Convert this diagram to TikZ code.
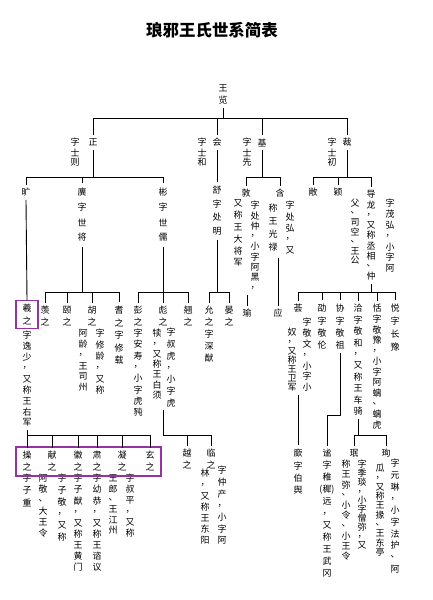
\documentclass[tikz,border=0pt]{standalone}
\usepackage{fontspec}
\setmainfont{Noto Sans CJK SC}
\usetikzlibrary{fit}
\definecolor{boxpurple}{RGB}{150,50,165}
\makeatletter
\newcommand\Vstack[2]{\vbox{\offinterlineskip\@tfor\vchr:=#2\do{\vbox to #1bp{\vss\hbox to 10bp{\hss\vchr\hss}\vss}}}}
\makeatother
\tikzset{
  colsty/.style={anchor=north, inner sep=1.5bp, font=\fontsize{9}{9}\selectfont},
  namebox/.style={draw=boxpurple, line width=1.4bp},
}
% [opts]{name}{x,y of first char centre}{spacing}{text}
\newcommand\C[5][]{\node[colsty, yshift={(#4/2+1.5)*1pt}, #1] (#2) at (#3) {\Vstack{#4}{#5}};}
\begin{document}
\begin{tikzpicture}[x=1bp, y=-1bp, line width=0.9bp]
\fill[white] (0,0) rectangle (432,600);
\useasboundingbox (0,0) rectangle (432,600);
\node (title) at (212,30) {\fontsize{16.5}{17}\selectfont\bfseries 琅邪王氏世系简表};

% level 0 / 1
\C{wl}{223,88}{12}{王览}
\C{zheng}{93,142}{11}{正}
\C{hui}{217,142}{11}{会}
\C{ji}{262,142}{11}{基}
\C{cai}{347,142}{11}{裁}
\C{lzheng}{75,142}{10}{字士则}
\C{lhui}{202,142}{10}{字士和}
\C{lji}{247,142}{10}{字士先}
\C{lcai}{332,142}{10}{字士初}

% level 2
\C{kuang}{26,192}{11}{旷}
\C{yi}{82,192}{15}{廙字世将}
\C{bin}{163,192}{15}{彬字世儒}
\C{shu}{217,190}{13.5}{舒字处明}
\C{dun}{246,193}{11}{敦}
\C{han}{280,193}{11}{含}
\C{dunR}{255,205}{10.25}{字处仲，小字阿黑，}
\C{dunL}{238,203}{11.8}{又称王大将军}
\C{hanR}{290,205}{11.25}{字处弘，又}
\C{hanL}{273,208}{13}{称王光禄}
\C{chang}{313,192}{11}{敞}
\C{yingA}{338,192}{11}{颖}
\C{dao}{371,194}{10.25}{导龙，又称丞相、仲}
\C{daoR}{390,203}{10.8}{字茂弘，小字阿}
\C{daoL}{355,203}{9.5}{父、司空、王公}

% level 3
\C[namebox, inner xsep=6bp, inner ysep=1bp]{xizhi}{27,308}{13}{羲之}
\C{xiD}{27,335}{10.9}{字逸少，又称王右军}
\C{xian}{45,310}{12}{羡之}
\C{yizhi}{67,310}{12}{颐之}
\C{hu}{92,310}{12}{胡之}
\C{huR}{100,333}{11.4}{字修龄，又称}
\C{huL}{83,333}{10.8}{阿龄，王司州}
\C{qi}{119,310}{12.5}{耆之字修载}
\C{peng}{138,310}{11.3}{彭之字安寿，小字虎豘}
\C{biao}{163,310}{12}{彪之}
\C{biaoR}{171,332}{11.7}{字叔虎，小字虎}
\C{biaoL}{157,333}{10.3}{犊，又称王白须}
\C{qiao}{188,310}{12}{翘之}
\C{yun}{209,310}{12}{允之字深猷}
\C{yan}{229,310}{12}{晏之}
\C{yu}{247,313}{11}{瑜}
\C{ying}{278,313}{11}{应}
\C{huiB}{298,308}{11}{荟}
\C{huiBR}{307,322}{10.8}{字敬文，小字小}
\C{huiBL}{292,332}{9.2}{奴，又称王卫军}
\C{shao}{322,308}{12.3}{劭字敬伦}
\C{xie}{340,308}{12.3}{协字敬祖}
\C{qia}{358,308}{11.4}{洽字敬和，又称王车骑}
\C{tian}{377,308}{10.6}{恬字敬豫，小字阿螭、螭虎}
\C{yue}{395,308}{13}{悦字长豫}

% level 4
\C{cao}{27,455}{12}{操之}
\C{xianB}{52,455}{12}{献之}
\C{huiC}{78,455}{12}{徽之}
\C{su}{97,455}{12}{肃之}
\C{ning}{122,455}{12}{凝之}
\C{xuan}{150,455}{12}{玄之}
\C{caoD}{27,478}{12}{字子重}
\C{xianR}{62,478}{11.8}{字子敬，又称}
\C{xianL}{43,478}{11}{阿敬、大王令}
\C{huiD}{78,478}{11.1}{字子猷，又称王黄门}
\C{suD}{97,478}{11.1}{字幼恭，又称王谘议}
\C{ningR}{130,478}{11}{字叔平，又称}
\C{ningL}{113,478}{10.4}{王郎、王江州}
\C{yueB}{187,453}{12}{越之}
\C{lin}{211,453}{12}{临之}
\C{linR}{222,470}{11.7}{字仲产，小字阿}
\C{linL}{205,473}{11.2}{林，又称王东阳}
\C{qin}{298,453}{12.3}{廞字伯舆}
\C{mi}{327,453}{12}{谧字稚{(穉)}远，又称王武冈}
\C{min}{354,453}{11}{珉}
\C{minR}{362,464}{9}{字季琰，小字僧弥，又}
\C{minL}{346,464}{10.2}{称王弥、小令、小王令}
\C{xun}{386,453}{11}{珣}
\C{xunR}{395,463}{11.7}{字元琳，小字法护、阿}
\C{xunL}{380,468}{9.3}{瓜，又称王掾、王东亭}

\node[fit=(cao)(xuan), namebox, inner xsep=4bp, inner ysep=0.5bp] (box2) {};

% connectors level 0 -> 1
\draw (wl.south) -- (wl.south |- 0,118);
\draw (zheng.north) -- (zheng.north |- 0,118) -- (cai.north |- 0,118) -- (cai.north);
\draw (hui.north) -- (hui.north |- 0,118);
\draw (ji.north) -- (ji.north |- 0,118);

% level 1 -> 2
\draw (zheng.south) -- (zheng.south |- 0,177);
\draw (kuang.north) -- (kuang.north |- 0,177) -- (bin.north |- 0,177) -- (bin.north);
\draw (yi.north) -- (yi.north |- 0,177);
\draw (hui.south) -- (shu.north);
\draw (ji.south) -- (ji.south |- 0,177);
\draw (dun.north) -- (dun.north |- 0,177) -- (han.north |- 0,177) -- (han.north);
\draw (cai.south) -- (cai.south |- 0,177);
\draw (chang.north) -- (chang.north |- 0,177) -- (dao.north |- 0,177) -- (dao.north);
\draw (yingA.north) -- (yingA.north |- 0,177);

% level 2 -> 3
\draw (kuang.south) -- (xizhi.north);
\draw (yi.south) -- (yi.south |- 0,292);
\draw (xian.north) -- (xian.north |- 0,292) -- (qi.north |- 0,292) -- (qi.north);
\draw (yizhi.north) -- (yizhi.north |- 0,292);
\draw (hu.north) -- (hu.north |- 0,292);
\draw (bin.south) -- (bin.south |- 0,292);
\draw (peng.north) -- (peng.north |- 0,292) -- (qiao.north |- 0,292) -- (qiao.north);
\draw (biao.north) -- (biao.north |- 0,292);
\draw (shu.south) -- (shu.south |- 0,292);
\draw (yun.north) -- (yun.north |- 0,292) -- (yan.north |- 0,292) -- (yan.north);
\draw (yu.north) -- (yu.north |- dunR.south);
\draw (ying.north) -- (ying.north |- hanR.south);
\draw (dao.south) -- (dao.south |- 0,292);
\draw (huiB.north) -- (huiB.north |- 0,292) -- (yue.north |- 0,292) -- (yue.north);
\draw (shao.north) -- (shao.north |- 0,292);
\draw (xie.north) -- (xie.north |- 0,292);
\draw (qia.north) -- (qia.north |- 0,292);
\draw (tian.north) -- (tian.north |- 0,292);

% level 3 -> 4
\draw (xiD.south) -- (xiD.south |- 0,435);
\draw (cao.north) -- (cao.north |- 0,435) -- (xuan.north |- 0,435) -- (xuan.north);
\draw (xianB.north) -- (xianB.north |- 0,435);
\draw (huiC.north) -- (huiC.north |- 0,435);
\draw (su.north) -- (su.north |- 0,435);
\draw (ning.north) -- (ning.north |- 0,435);
\draw (biaoR.south -| biao.south) -- (biao.south |- 0,435) -- (lin.north |- 0,435) -- (lin.north);
\draw (yueB.north) -- (yueB.north |- 0,435);
\draw (qin.north) -- (qin.north |- huiBR.south);
\draw (xie.south) -- (xie.south |- 0,415) -| (mi.north);
\draw (qia.south) -- (qia.south |- 0,435);
\draw (min.north) -- (min.north |- 0,435) -- (xun.north |- 0,435) -- (xun.north);
\end{tikzpicture}
\end{document}
